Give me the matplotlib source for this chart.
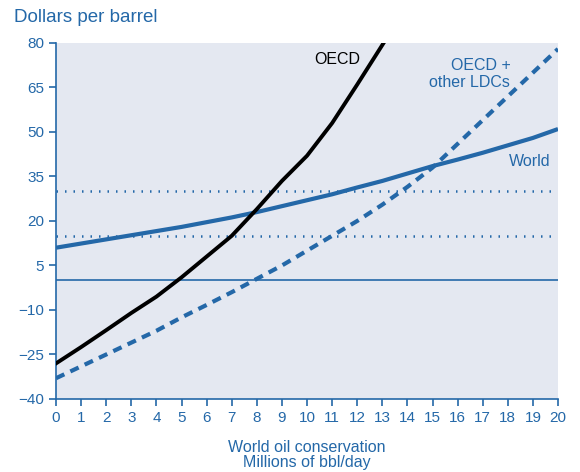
import numpy as np
import matplotlib
matplotlib.use("Agg")
from matplotlib import pyplot as plt

plt.rcParams['font.family'] = ['Liberation Sans', 'DejaVu Sans']

blue = '#2468a8'
bg = '#e4e8f1'

# data
x_oecd = [0, 1, 2, 3, 4, 5, 6, 7, 8, 9, 10, 11, 12, 13.05]
oecd = [-28, -22.5, -16.8, -11, -5.5, 1, 8, 15, 24, 33.5, 42, 53, 66, 80]

x_all = list(range(21))
world = [11, 12.4, 13.8, 15.2, 16.6, 18, 19.6, 21.2, 23, 25, 27, 29, 31.3, 33.5,
         36, 38.5, 40.7, 43, 45.5, 48, 51]
oecd_ldc = [-33, -29, -25, -21, -17, -12.5, -8.3, -4, 0.5, 5, 10, 15, 20, 25.5,
            31.5, 38, 46, 54, 62, 70, 78]

ref_levels = [15, 30]
yticks = [-40, -25, -10, 5, 20, 35, 50, 65, 80]

fig = plt.figure(figsize=(5.8, 4.72), dpi=100)
ax = fig.add_axes([0.0966, 0.1547, 0.8655, 0.7542])
ax.set_facecolor(bg)

ax.axhline(0, color=blue, lw=1.2, zorder=1)
for lv in ref_levels:
    ax.axhline(lv, color=blue, lw=1.8, ls=(0, (0.6, 2.8)), zorder=1)

ax.plot(x_all, world, color=blue, lw=3, solid_capstyle='butt', zorder=3)
ax.plot(x_all, oecd_ldc, color=blue, lw=3, ls=(0, (2.2, 1.6)), zorder=3)
ax.plot(x_oecd, oecd, color='black', lw=2.8, zorder=4)

ax.text(11.2, 74.5, 'OECD', color='black', fontsize=11.5, ha='center', va='center')
ax.text(18.1, 69.5, 'OECD +\nother LDCs', color=blue, fontsize=11.5, ha='right', va='center',
        linespacing=1.15)
ax.text(19.7, 40.2, 'World', color=blue, fontsize=11.5, ha='right', va='center')

ax.set_xlim(0, 20)
ax.set_ylim(-40, 80)
ax.set_xticks(range(21))
ax.set_yticks(yticks)
ax.set_yticklabels([str(t).replace('-', '\u2212') for t in yticks])

for s in ['top', 'right']:
    ax.spines[s].set_visible(False)
for s in ['left', 'bottom']:
    ax.spines[s].set_color(blue)
    ax.spines[s].set_linewidth(1.2)
ax.tick_params(colors=blue, labelcolor=blue, labelsize=11, length=5, width=1.2)

ax.set_xlabel('World oil conservation\nMillions of bbl/day', color=blue, fontsize=11.5,
              labelpad=11, linespacing=1.0)
fig.text(0.024, 0.963, 'Dollars per barrel', color=blue, fontsize=13.5, ha='left', va='center')

fig.savefig('out.png', dpi=100)
